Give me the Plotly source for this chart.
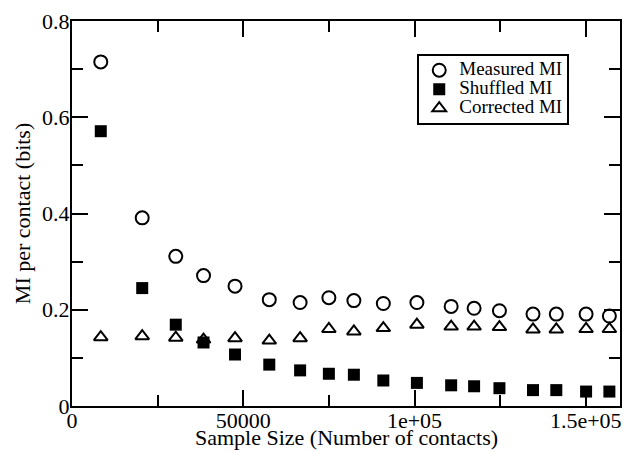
import plotly.graph_objects as go

sample_size = [8400, 20500, 30300, 38400, 47600, 57600, 66600, 75000, 82300, 90900,
               100700, 110700, 117400, 124800, 134600, 141400, 150100, 156900]
measured_mi = [0.715, 0.391, 0.311, 0.271, 0.249, 0.221, 0.215, 0.225, 0.219, 0.213,
               0.215, 0.207, 0.203, 0.198, 0.191, 0.191, 0.191, 0.187]
shuffled_mi = [0.571, 0.245, 0.169, 0.132, 0.107, 0.086, 0.074, 0.067, 0.065, 0.053,
               0.048, 0.043, 0.041, 0.037, 0.033, 0.033, 0.030, 0.030]
corrected_mi = [0.143, 0.145, 0.142, 0.138, 0.141, 0.136, 0.141, 0.160, 0.155, 0.162,
                0.169, 0.165, 0.165, 0.164, 0.159, 0.159, 0.160, 0.160]

series_names = ["Measured MI", "Shuffled MI", "Corrected MI"]
x_tickvals = [0, 50000, 100000, 150000]
x_ticktext = ["0", "50000", "1e+05", "1.5e+05"]
y_tickvals = [0, 0.2, 0.4, 0.6, 0.8]
y_ticktext = ["0", "0.2", "0.4", "0.6", "0.8"]
x_title = "Sample Size (Number of contacts)"
y_title = "MI per contact (bits)"

FONT = "Liberation Serif"


def legend_label(name):
    return '<span style="font-size:19px">' + name + '</span>'


fig = go.Figure()
fig.add_trace(go.Scatter(
    x=sample_size, y=measured_mi, mode="markers", name=legend_label(series_names[0]),
    marker=dict(symbol="circle-open", size=13, color="black", line=dict(width=2, color="black"))))
fig.add_trace(go.Scatter(
    x=sample_size, y=shuffled_mi, mode="markers", name=legend_label(series_names[1]),
    marker=dict(symbol="square", size=12, color="black", line=dict(width=0))))
fig.add_trace(go.Scatter(
    x=sample_size, y=corrected_mi, mode="markers", name=legend_label(series_names[2]),
    marker=dict(symbol="triangle-up-open", size=12, color="black", line=dict(width=2, color="black"))))

axis_common = dict(
    showgrid=False, zeroline=False, showline=True, linecolor="black", linewidth=2,
    mirror="ticks", ticks="inside", ticklen=16, tickwidth=2, tickcolor="black",
    tickfont=dict(family=FONT, size=22, color="black"),
)

fig.update_xaxes(
    range=[0, 160000], tickmode="array", tickvals=x_tickvals, ticktext=x_ticktext,
    minor=dict(ticks="inside", ticklen=11, tickwidth=2, tickcolor="black", dtick=25000, tick0=0),
    ticklabelstandoff=-6,
    **axis_common)
fig.update_yaxes(
    range=[0, 0.8], tickmode="array", tickvals=y_tickvals, ticktext=y_ticktext,
    minor=dict(ticks="inside", ticklen=11, tickwidth=2, tickcolor="black", dtick=0.1, tick0=0),
    ticklabelstandoff=-4,
    **axis_common)

fig.add_annotation(
    text=x_title, xref="paper", yref="paper", x=0.5, y=-0.083,
    xanchor="center", yanchor="middle", showarrow=False,
    font=dict(family=FONT, size=22, color="black"))
fig.add_annotation(
    text=y_title, xref="paper", yref="paper", x=-0.09, y=0.5,
    xanchor="center", yanchor="middle", textangle=-90, showarrow=False,
    font=dict(family=FONT, size=22, color="black"))

fig.update_layout(
    width=626, height=453,
    margin=dict(l=72, r=4, t=21, b=47),
    paper_bgcolor="white", plot_bgcolor="white",
    showlegend=True,
    legend=dict(
        x=0.63, y=0.915, xanchor="left", yanchor="top",
        bgcolor="white", bordercolor="black", borderwidth=2,
        font=dict(family=FONT, size=12, color="black"),
        itemsizing="trace",
    ),
)

fig.write_html("out.html", config={"displayModeBar": False},
               post_script="document.body.style.margin='0';")
